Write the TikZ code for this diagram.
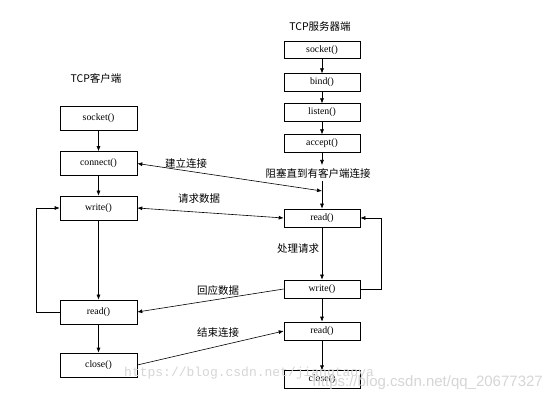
\documentclass[tikz,border=0pt]{standalone}
\usepackage{fontspec}
\setmainfont{Liberation Serif}
\newfontfamily\cjk{Noto Sans CJK SC}
\newfontfamily\wmsans{Liberation Sans}
\newfontfamily\wmmono{Liberation Mono}
\usetikzlibrary{arrows.meta}
\begin{document}
\begin{tikzpicture}[x=1pt,y=-1pt,
  fnbox/.style={draw=black,line width=0.6pt,minimum width=77pt,inner sep=0pt,font=\fontsize{9.8}{10}\selectfont},
  cbox/.style={fnbox,minimum height=24pt},
  sbox/.style={fnbox,minimum width=76pt,minimum height=17.5pt},
  lbl/.style={font=\cjk\fontsize{10.5}{12}\selectfont,inner sep=1pt},
  flow/.style={line width=0.6pt,-{Latex[length=5pt,width=4pt]}},
  both/.style={line width=0.6pt,{Latex[length=5pt,width=4pt]}-{Latex[length=5pt,width=4pt]}},
  wm/.style={text=black!16,inner sep=0pt}]
\path[use as bounding box,fill=white] (0,0) rectangle (554,403);
% client
\node[lbl] (ctitle) at (96,78) {TCP客户端};
\node[cbox] (c1) at (98.5,118) {socket()};
\node[cbox] (c2) at (98.5,163.5) {connect()};
\node[cbox] (c3) at (98.5,208) {write()};
\node[cbox] (c4) at (98.5,312) {read()};
\node[cbox] (c5) at (98.5,365) {close()};
% server
\node[lbl] (stitle) at (320,27) {TCP服务器端};
\node[sbox] (s1) at (322,50) {socket()};
\node[sbox] (s2) at (322,82.5) {bind()};
\node[sbox] (s3) at (322,112.5) {listen()};
\node[sbox] (s4) at (322,143.5) {accept()};
\node[sbox,minimum height=18pt] (s5) at (322,218) {read()};
\node[sbox,minimum height=18pt] (s6) at (322,289) {write()};
\node[sbox,minimum height=18pt] (s7) at (322,331) {read()};
\node[sbox] (s8) at (322,379.5) {close()};
% labels
\node[lbl] (block) at (318,173) {阻塞直到有客户端连接};
\node[lbl] (l1) at (186,163) {建立连接};
\node[lbl] (l2) at (199,199) {请求数据};
\node[lbl] (l3) at (298,249) {处理请求};
\node[lbl] (l4) at (218,291) {回应数据};
\node[lbl] (l5) at (218,333) {结束连接};
\coordinate (a1) at (322,165);
\coordinate (a2) at (322,181);
\coordinate (meet) at (322,191);
% client flow
\draw[flow] (c1) -- (c2);
\draw[flow] (c2) -- (c3);
\draw[flow] (c3) -- (c4);
\draw[flow] (c4) -- (c5);
\draw[flow] (c4.west) -- ++(-23,0) |- (c3.west);
% server flow
\draw[flow] (s1) -- (s2);
\draw[flow] (s2) -- (s3);
\draw[flow] (s3) -- (s4);
\draw[flow] (s4) -- (a1);
\draw[flow] (a2) -- (s5);
\draw[flow] (s5) -- (s6);
\draw[flow] (s6) -- (s7);
\draw[flow] (s7) -- (s8);
\draw[flow] (s6.east) -- ++(21,0) |- (s5.east);
% connections
\draw[both] (c2.east) -- (meet);
\draw[both] (c3.east) -- (s5.west);
\draw[flow] (s6.west) -- (c4.east);
\draw[flow] (c5.east) -- (s7.west);
% watermarks
\node[wm,font=\wmmono\fontsize{13}{14}\selectfont,anchor=west] (wm1) at (124,373) {https://blog.csdn.net/jiangtaoya};
\node[wm,font=\wmsans\fontsize{15}{16}\selectfont,anchor=east] (wm2) at (543,383) {https://blog.csdn.net/qq\_20677327};
\end{tikzpicture}
\end{document}
